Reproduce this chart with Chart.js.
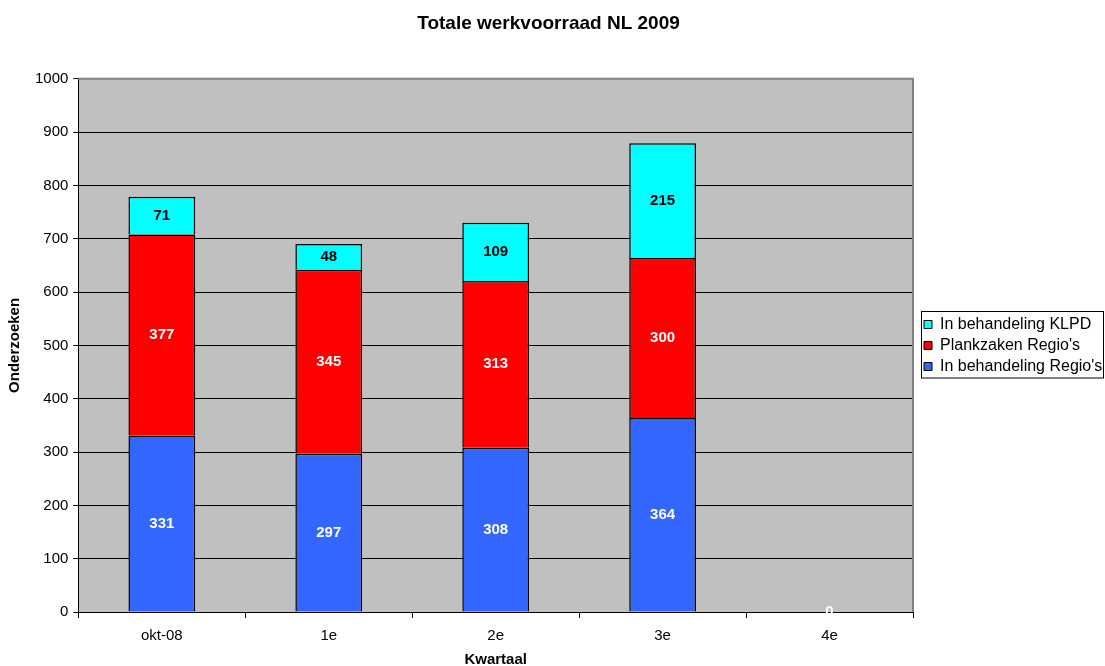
<!DOCTYPE html>
<html>
<head>
<meta charset="utf-8">
<script src="https://cdn.jsdelivr.net/npm/chart.js@4/dist/chart.umd.min.js"></script>
<style>
html,body{margin:0;padding:0;background:#fff;}
#wrap{width:1105px;height:666px;position:relative;}
</style>
</head>
<body>
<div id="wrap"><canvas id="c" width="1105" height="666"></canvas></div>
<script>
const categories = ["okt-08", "1e", "2e", "3e", "4e"];
const behandelingRegio = [331, 297, 308, 364, 0];
const plankzakenRegio = [377, 345, 313, 300, null];
const behandelingKLPD = [71, 48, 109, 215, null];
const yTicks = [0, 100, 200, 300, 400, 500, 600, 700, 800, 900, 1000];

const FONT = "'Liberation Sans', Arial, sans-serif";

const bgPlugin = {
  id: 'bg',
  afterLayout(chart) {
    const lg = chart.legend;
    const a = chart.chartArea;
    lg.left = a.right + 6;
    lg.right = chart.width;
    lg.width = lg.right - lg.left;
    lg.top += 11;
    lg.bottom += 11;
  },
  beforeDraw(chart) {
    const {ctx, chartArea: a} = chart;
    ctx.save();
    ctx.fillStyle = '#C0C0C0';
    ctx.fillRect(a.left, a.top, a.right - a.left, a.bottom - a.top);
    ctx.restore();
  },
  afterDatasetsDraw(chart) {
    const {ctx, chartArea: a} = chart;
    ctx.save();
    ctx.strokeStyle = '#808080';
    ctx.lineWidth = 2;
    ctx.beginPath();
    ctx.moveTo(a.left, a.top);
    ctx.lineTo(a.right, a.top);
    ctx.lineTo(a.right, a.bottom);
    ctx.stroke();
    ctx.restore();
  },
  afterDraw(chart) {
    const {ctx} = chart;
    const boxes = chart.legend.legendHitBoxes || [];
    if (!boxes.length) return;
    let l = Infinity, t = Infinity, b = -Infinity;
    boxes.forEach(h => { l = Math.min(l, h.left); t = Math.min(t, h.top); b = Math.max(b, h.top + h.height); });
    ctx.save();
    ctx.strokeStyle = '#000';
    ctx.lineWidth = 1;
    const x0 = Math.round(l) - 3 + 0.5, y0 = Math.round(t) - 6 + 0.5;
    ctx.strokeRect(x0, y0, 1103.5 - x0, Math.round(b) + 3 - y0);
    ctx.restore();
  }
};

const labelPlugin = {
  id: 'barLabels',
  afterDatasetsDraw(chart) {
    const {ctx} = chart;
    ctx.save();
    ctx.font = "bold 15px " + FONT;
    ctx.textAlign = 'center';
    ctx.textBaseline = 'middle';
    chart.data.datasets.forEach((ds, di) => {
      const meta = chart.getDatasetMeta(di);
      meta.data.forEach((el, i) => {
        const v = ds.data[i];
        if (v === null || v === undefined) return;
        const p = el.getCenterPoint();
        ctx.fillStyle = ds.labelColor;
        ctx.fillText(String(v), p.x, p.y);
      });
    });
    ctx.restore();
  }
};

new Chart(document.getElementById('c'), {
  type: 'bar',
  data: {
    labels: categories,
    datasets: [
      {label: "In behandeling Regio's", data: behandelingRegio, backgroundColor: '#3366FF', borderColor: '#000', borderWidth: 1.5, labelColor: '#fff'},
      {label: "Plankzaken Regio's", data: plankzakenRegio, backgroundColor: '#FF0000', borderColor: '#000', borderWidth: 1.5, labelColor: '#fff'},
      {label: "In behandeling KLPD", data: behandelingKLPD, backgroundColor: '#00FFFF', borderColor: '#000', borderWidth: 1.5, labelColor: '#000'}
    ]
  },
  options: {
    responsive: false,
    animation: false,
    devicePixelRatio: 1,
    barPercentage: 0.4,
    categoryPercentage: 1.0,
    layout: {padding: {left: 4, right: 12, top: 0, bottom: -3}},
    plugins: {
      title: {
        display: true,
        text: 'Totale werkvoorraad NL 2009',
        color: '#000',
        font: {family: FONT, size: 19, weight: 'bold'},
        padding: {top: 12, bottom: 44}
      },
      legend: {
        display: true,
        position: 'right',
        reverse: true,
        maxWidth: 180,
        labels: {
          color: '#000',
          font: {family: FONT, size: 16},
          boxWidth: 8,
          boxHeight: 8,
          padding: 5,
          generateLabels(chart) {
            return chart.data.datasets.map((ds, i) => ({
              text: ds.label,
              fillStyle: ds.backgroundColor,
              strokeStyle: '#000',
              lineWidth: 1,
              hidden: false,
              datasetIndex: i
            }));
          }
        }
      },
      tooltip: {enabled: false}
    },
    scales: {
      x: {
        stacked: true,
        grid: {offset: true, drawOnChartArea: false, color: '#000', tickLength: 6, tickColor: '#000'},
        border: {color: '#000', width: 1},
        ticks: {color: '#000', font: {family: FONT, size: 15}, padding: 9, maxRotation: 0},
        title: {display: true, text: 'Kwartaal', color: '#000', font: {family: FONT, size: 15, weight: 'bold'}, padding: {top: -3, bottom: 0}}
      },
      y: {
        stacked: true,
        min: 0,
        max: 1000,
        afterBuildTicks(scale) { scale.ticks = yTicks.map(v => ({value: v})); },
        grid: {color: '#000', lineWidth: 1, tickLength: 5, tickColor: '#000'},
        border: {color: '#000', width: 1},
        ticks: {color: '#000', font: {family: FONT, size: 15}, padding: 5, callback: v => String(v)},
        title: {display: true, text: 'Onderzoeken', color: '#000', font: {family: FONT, size: 15, weight: 'bold'}, padding: {top: 2, bottom: 6}}
      }
    }
  },
  plugins: [bgPlugin, labelPlugin]
});
</script>
</body>
</html>
